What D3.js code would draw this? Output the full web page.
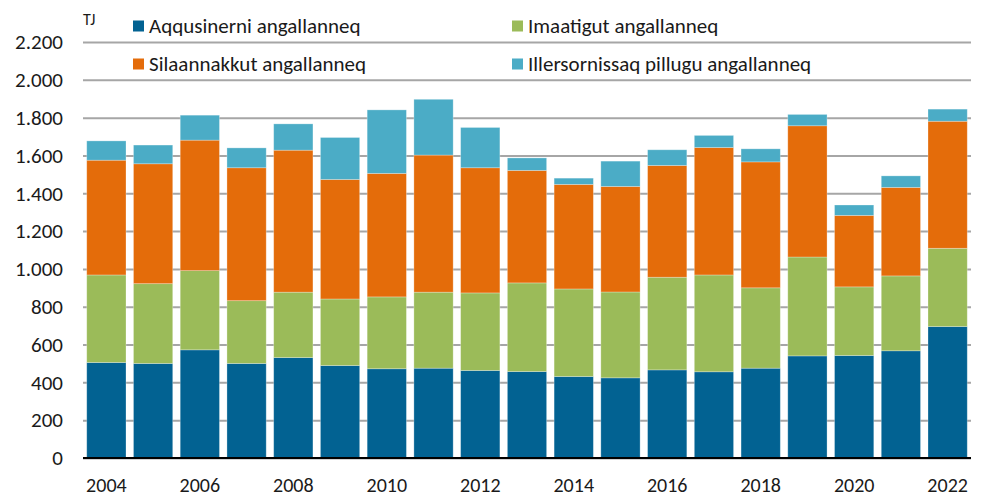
<!DOCTYPE html>
<html>
<head>
<meta charset="utf-8">
<script src="https://cdn.jsdelivr.net/npm/d3@7"></script>
<style>
  body { margin: 0; background: #fff; }
  text { font-family: Carlito, Calibri, Lato, sans-serif; fill: #1a1a1a; }
</style>
</head>
<body>
<div id="chart"></div>
<script>
// data (TJ)
const years = [2004, 2005, 2006, 2007, 2008, 2009, 2010, 2011, 2012, 2013,
  2014, 2015, 2016, 2017, 2018, 2019, 2020, 2021, 2022];
const seriesNames = ["Aqqusinerni angallanneq", "Imaatigut angallanneq",
  "Silaannakkut angallanneq", "Illersornissaq pillugu angallanneq"];
const road = [505, 500, 572, 500, 531, 489, 472, 475, 463, 457, 431, 424, 466, 456, 475, 540, 542, 567, 695];
const sea = [463, 422, 419, 332, 346, 352, 380, 402, 410, 469, 463, 454, 490, 512, 425, 523, 363, 396, 414];
const air = [607, 634, 690, 703, 751, 632, 653, 725, 662, 595, 553, 558, 591, 674, 666, 694, 378, 468, 672];
const defence = [102, 99, 132, 105, 139, 222, 336, 295, 213, 66, 33, 134, 83, 64, 69, 60, 55, 61, 64];
const yTicks = [0, 200, 400, 600, 800, 1000, 1200, 1400, 1600, 1800, 2000, 2200];
const xTicks = [2004, 2006, 2008, 2010, 2012, 2014, 2016, 2018, 2020, 2022];
const colors = ["#026292", "#9bbb59", "#e46c0a", "#4bacc6"];

const width = 983, height = 497;
const margin = { top: 42, right: 12, bottom: 39, left: 83 };

const svg = d3.select("#chart").append("svg")
  .attr("width", width).attr("height", height);

const rows = years.map((y, i) => ({ year: y, s0: road[i], s1: sea[i], s2: air[i], s3: defence[i] }));
const keys = ["s0", "s1", "s2", "s3"];
const stacked = d3.stack().keys(keys)(rows);

const x = d3.scaleBand()
  .domain(years)
  .range([margin.left, width - margin.right])
  .paddingInner(0.16)
  .paddingOuter(0.08);

const y = d3.scaleLinear()
  .domain([0, 2200])
  .range([height - margin.bottom, margin.top]);

const locale = d3.formatLocale({ decimal: ",", thousands: ".", grouping: [3], currency: ["", ""] });
const fmt = locale.format(",");

// gridlines + y labels
const yAxis = svg.append("g")
  .attr("transform", `translate(${margin.left},0)`)
  .call(d3.axisLeft(y).tickValues(yTicks).tickFormat(fmt)
    .tickSize(-(width - margin.left - margin.right)).tickPadding(20));
yAxis.select(".domain").remove();
yAxis.selectAll(".tick line").attr("stroke", "#a6a6a6").attr("stroke-width", 2);
yAxis.selectAll(".tick text").attr("font-size", 21).attr("fill", "#1a1a1a");

// bars
svg.append("g")
  .selectAll("g")
  .data(stacked)
  .join("g")
  .attr("fill", (d, i) => colors[i])
  .selectAll("rect")
  .data(d => d)
  .join("rect")
  .attr("x", d => x(d.data.year))
  .attr("width", x.bandwidth())
  .attr("y", d => y(d[1]))
  .attr("height", d => y(d[0]) - y(d[1]))
  .attr("stroke", "#ffffff")
  .attr("stroke-opacity", 0.35)
  .attr("stroke-width", 0.8);

// baseline
svg.append("line")
  .attr("x1", margin.left).attr("x2", width - margin.right)
  .attr("y1", y(0)).attr("y2", y(0))
  .attr("stroke", "#000").attr("stroke-width", 2);

// x labels
const xAxis = svg.append("g")
  .attr("transform", `translate(0,${y(0)})`)
  .call(d3.axisBottom(x).tickValues(xTicks).tickSize(0).tickPadding(20));
xAxis.select(".domain").remove();
xAxis.selectAll(".tick text").attr("font-size", 20).attr("fill", "#1a1a1a");

// unit
svg.append("text")
  .attr("x", 83).attr("y", 25)
  .attr("font-size", 16)
  .text("TJ");

// legend (2 x 2)
const legendPos = [[133, 26], [512, 26], [133, 64], [512, 64]];
const order = [0, 1, 2, 3];
const legend = svg.append("g")
  .selectAll("g")
  .data(order)
  .join("g")
  .attr("transform", d => `translate(${legendPos[d][0]},${legendPos[d][1]})`);
legend.append("rect")
  .attr("x", 0).attr("y", -5.5)
  .attr("width", 11).attr("height", 11)
  .attr("fill", d => colors[d]);
legend.append("text")
  .attr("x", 16).attr("y", 0)
  .attr("dy", "0.35em")
  .attr("font-size", 21)
  .text(d => seriesNames[d]);
</script>
</body>
</html>
